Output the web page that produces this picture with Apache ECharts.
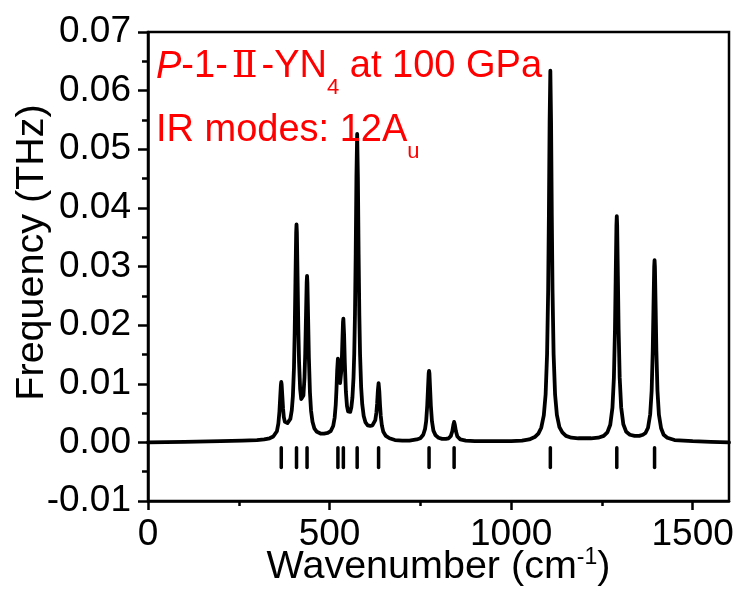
<!DOCTYPE html>
<html>
<head>
<meta charset="utf-8">
<script src="https://cdn.jsdelivr.net/npm/echarts@6/dist/echarts.min.js"></script>
<style>
  html, body { margin: 0; padding: 0; background: #fff; }
  #chart { width: 740px; height: 592px; }
</style>
</head>
<body>
<div id="chart"></div>
<script>
// Simulated IR spectrum of P-1-II-YN4 at 100 GPa
const wavenumber = [
  0, 100, 200, 260, 300, 320, 335, 345, 350, 355, 359, 362, 364, 366, 367, 368, 370, 372, 374, 377,
  380, 384, 388, 392, 396, 399, 402, 404, 406, 408, 409, 410, 412, 414, 416, 419, 422, 424, 426, 428,
  431, 433, 435, 437, 438, 439, 441, 443, 446, 449, 453, 458, 465, 475, 485, 495, 503, 510, 514, 517,
  519, 521, 523, 525, 527, 529, 531, 533, 535, 537, 538, 540, 542, 545, 548, 551, 554, 557, 560, 563,
  566, 568, 570, 572, 574, 576, 578, 580, 582, 584, 587, 590, 594, 599, 605, 612, 618, 622, 626, 629,
  631, 633, 635, 637, 639, 641, 644, 648, 655, 665, 680, 700, 720, 740, 750, 758, 763, 766, 769, 771,
  773, 774, 775, 777, 779, 782, 786, 792, 800, 810, 820, 828, 834, 838, 841, 843, 845, 848, 852, 860,
  875, 900, 950, 1000, 1030, 1050, 1065, 1075, 1083, 1090, 1095, 1099, 1102, 1104, 1106, 1108, 1110, 1112, 1114, 1117,
  1121, 1126, 1133, 1141, 1151, 1166, 1185, 1200, 1220, 1240, 1255, 1265, 1273, 1279, 1283, 1286, 1288, 1290, 1291, 1292,
  1294, 1296, 1299, 1303, 1309, 1317, 1327, 1340, 1353, 1363, 1370, 1377, 1383, 1387, 1390, 1392, 1394, 1395, 1396, 1398,
  1400, 1403, 1407, 1413, 1420, 1430, 1450, 1500, 1550, 1600
];
const intensity = [
  0.0000, 0.0001, 0.0002, 0.0003, 0.0004, 0.0005, 0.0007, 0.0010, 0.0012, 0.0019, 0.0032, 0.0053, 0.0076, 0.0098, 0.0103, 0.0099, 0.0078, 0.0057, 0.0043, 0.0035,
  0.0033, 0.0033, 0.0034, 0.0040, 0.0055, 0.0079, 0.0127, 0.0189, 0.0274, 0.0357, 0.0372, 0.0358, 0.0277, 0.0194, 0.0137, 0.0091, 0.0074, 0.0071, 0.0073, 0.0080,
  0.0111, 0.0152, 0.0213, 0.0273, 0.0284, 0.0272, 0.0210, 0.0145, 0.0085, 0.0054, 0.0035, 0.0024, 0.0018, 0.0015, 0.0015, 0.0016, 0.0019, 0.0028, 0.0042, 0.0064,
  0.0090, 0.0123, 0.0143, 0.0133, 0.0113, 0.0101, 0.0104, 0.0126, 0.0166, 0.0205, 0.0211, 0.0184, 0.0136, 0.0086, 0.0062, 0.0053, 0.0050, 0.0052, 0.0060, 0.0077,
  0.0111, 0.0152, 0.0219, 0.0322, 0.0453, 0.0526, 0.0452, 0.0321, 0.0217, 0.0150, 0.0094, 0.0065, 0.0045, 0.0034, 0.0029, 0.0028, 0.0029, 0.0032, 0.0038, 0.0051,
  0.0066, 0.0088, 0.0101, 0.0087, 0.0063, 0.0045, 0.0029, 0.0018, 0.0011, 0.0007, 0.0004, 0.0003, 0.0003, 0.0005, 0.0007, 0.0013, 0.0023, 0.0036, 0.0063, 0.0091,
  0.0118, 0.0122, 0.0118, 0.0090, 0.0062, 0.0036, 0.0020, 0.0012, 0.0008, 0.0006, 0.0006, 0.0007, 0.0011, 0.0019, 0.0030, 0.0035, 0.0030, 0.0019, 0.0010, 0.0005,
  0.0003, 0.0002, 0.0002, 0.0002, 0.0003, 0.0005, 0.0009, 0.0015, 0.0025, 0.0046, 0.0082, 0.0150, 0.0260, 0.0387, 0.0546, 0.0634, 0.0546, 0.0387, 0.0260, 0.0150,
  0.0082, 0.0047, 0.0026, 0.0017, 0.0011, 0.0008, 0.0007, 0.0007, 0.0007, 0.0008, 0.0011, 0.0017, 0.0030, 0.0059, 0.0110, 0.0193, 0.0283, 0.0370, 0.0386, 0.0370,
  0.0283, 0.0193, 0.0110, 0.0060, 0.0031, 0.0018, 0.0013, 0.0011, 0.0011, 0.0013, 0.0016, 0.0025, 0.0048, 0.0088, 0.0156, 0.0229, 0.0299, 0.0311, 0.0299, 0.0229,
  0.0156, 0.0088, 0.0047, 0.0024, 0.0013, 0.0008, 0.0004, 0.0002, 0.0001, 0.0000
];

// Frequencies of the 12 IR-active Au modes (stick marks under the curve)
const modePositions = [367, 409, 438, 523, 538, 576, 635, 774, 843, 1108, 1291, 1395];
const stickRange = [-0.0009, -0.0043];

// Axis ticks
const xMajorTicks = [0, 500, 1000, 1500];
const xMinorTicks = [250, 750, 1250];
const yRange = [-0.01, 0.07];
const yStep = 0.01;
const xRange = [0, 1600];

const FONT = '"Liberation Sans", Arial, sans-serif';
const SERIF = '"DejaVu Serif", "Liberation Serif", serif';
const RED = '#f00';

const chart = echarts.init(document.getElementById('chart'), null, { renderer: 'canvas' });

const curve = wavenumber.map((w, i) => [w, intensity[i]]);
const sticks = modePositions.map(w => [w, stickRange[0], stickRange[1]]);

const baseX = {
  type: 'value', min: xRange[0], max: xRange[1], position: 'bottom',
  splitLine: { show: false }
};

chart.setOption({
  animation: false,
  grid: {
    left: 148, right: 11, top: 32, bottom: 91,
    outerBoundsMode: 'none',
    containLabel: false,
    show: true, borderColor: '#000', borderWidth: 2.5, backgroundColor: 'transparent'
  },
  xAxis: [
    Object.assign({}, baseX, {
      axisLine: { show: true, onZero: false, lineStyle: { color: '#000', width: 2.5 } },
      axisTick: { show: true, inside: false, length: 9, lineStyle: { color: '#000', width: 2.5 }, customValues: xMajorTicks },
      axisLabel: {
        show: true, margin: 15, color: '#000', fontFamily: FONT, fontSize: 37,
        customValues: xMajorTicks, formatter: v => String(v)
      },
      name: '{a|Wavenumber (cm}{s|-1}{a|)}',
      nameLocation: 'middle',
      nameGap: 45,
      nameMoveOverlap: false,
      nameTextStyle: {
        color: '#000',
        rich: {
          a: { fontFamily: FONT, fontSize: 39.5, lineHeight: 42, color: '#000' },
          s: { fontFamily: FONT, fontSize: 23, lineHeight: 23, color: '#000', verticalAlign: 'top' }
        }
      }
    }),
    Object.assign({}, baseX, {
      axisLine: { show: false, onZero: false },
      axisTick: { show: true, inside: false, length: 5, lineStyle: { color: '#000', width: 2.5 }, customValues: xMinorTicks },
      axisLabel: { show: false }
    })
  ],
  yAxis: {
    type: 'value', min: yRange[0], max: yRange[1], interval: yStep,
    splitLine: { show: false },
    axisLine: { show: true, onZero: false, lineStyle: { color: '#000', width: 2.5 } },
    axisTick: { show: true, inside: false, length: 10, lineStyle: { color: '#000', width: 2.5 } },
    minorTick: { show: true, splitNumber: 2, length: 6, lineStyle: { color: '#000', width: 2.5 } },
    axisLabel: {
      margin: 17, color: '#000', fontFamily: FONT, fontSize: 37,
      formatter: v => v.toFixed(2)
    },
    name: 'Frequency (THz)',
    nameLocation: 'middle',
    nameGap: 96,
    nameMoveOverlap: false,
    nameTextStyle: { color: '#000', fontFamily: FONT, fontSize: 39.5, padding: [0, 0, 0, 28] }
  },
  series: [
    {
      type: 'line',
      data: curve,
      showSymbol: false,
      symbol: 'none',
      lineStyle: { color: '#000', width: 3.8, join: 'round', cap: 'round' },
      z: 3
    },
    {
      type: 'custom',
      data: sticks,
      renderItem: (params, api) => {
        const p1 = api.coord([api.value(0), api.value(1)]);
        const p2 = api.coord([api.value(0), api.value(2)]);
        return {
          type: 'line',
          shape: { x1: p1[0], y1: p1[1], x2: p2[0], y2: p2[1] },
          style: { stroke: '#000', lineWidth: 3.5, lineCap: 'round' }
        };
      },
      z: 3
    }
  ],
  graphic: [
    {
      type: 'text', left: 156, top: 46, z: 10,
      style: {
        text: '{i|P}{a|-1-}{r|Ⅱ}{a|-YN}{s|4}{a| at 100 GPa}',
        rich: {
          a: { fontFamily: FONT, fontSize: 38, lineHeight: 42, fill: RED },
          i: { fontFamily: FONT, fontSize: 38, lineHeight: 42, fontStyle: 'italic', fill: RED },
          r: { fontFamily: SERIF, fontSize: 38, lineHeight: 42, padding: [0, 4, 0, 4], fill: RED },
          s: { fontFamily: FONT, fontSize: 22, lineHeight: 22, padding: [31, 0, 0, 0], verticalAlign: 'top', fill: RED }
        }
      }
    },
    {
      type: 'text', left: 156, top: 110, z: 10,
      style: {
        text: '{a|IR modes: 12A}{s|u}',
        rich: {
          a: { fontFamily: FONT, fontSize: 38, lineHeight: 42, fill: RED },
          s: { fontFamily: FONT, fontSize: 22, lineHeight: 22, padding: [31, 0, 0, 0], verticalAlign: 'top', fill: RED }
        }
      }
    }
  ]
});
</script>
</body>
</html>
